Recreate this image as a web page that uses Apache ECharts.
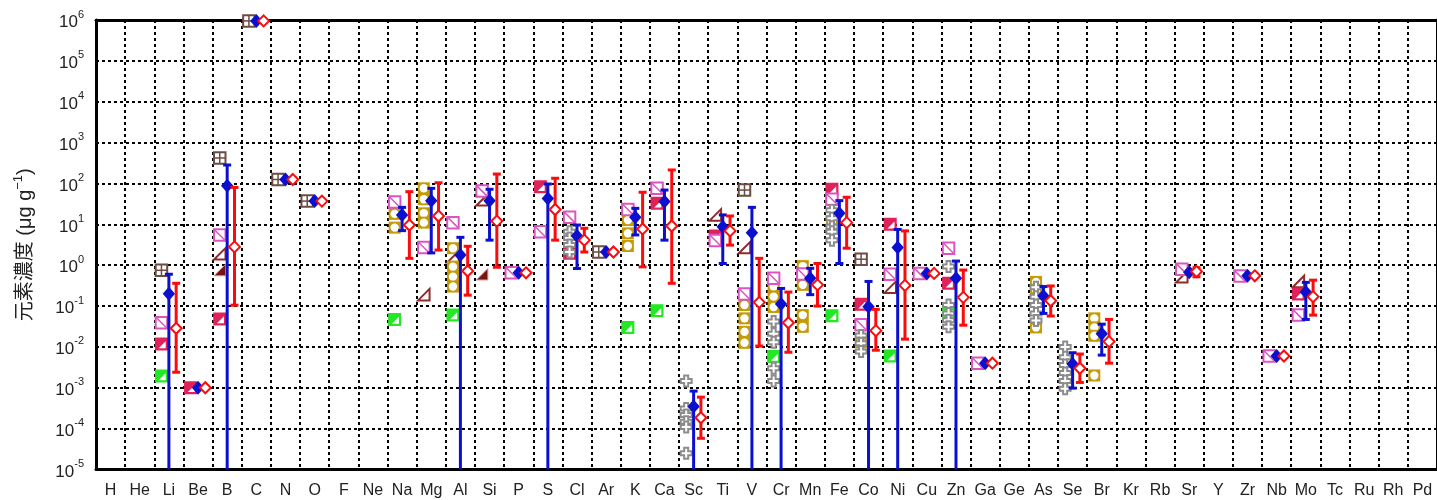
<!DOCTYPE html>
<html>
<head>
<meta charset="utf-8">
<script src="https://cdn.jsdelivr.net/npm/echarts@6/dist/echarts.min.js"></script>
<style>
  html, body { margin: 0; padding: 0; background: #fff; }
  #chart { width: 1437px; height: 500px; }
</style>
</head>
<body>
<div id="chart"></div>
<script>
// Element categories along the x axis
const elements = ['H','He','Li','Be','B','C','N','O','F','Ne','Na','Mg','Al','Si','P','S','Cl','Ar','K','Ca',
  'Sc','Ti','V','Cr','Mn','Fe','Co','Ni','Cu','Zn','Ga','Ge','As','Se','Br','Kr','Rb','Sr','Y','Zr','Nb','Mo',
  'Tc','Ru','Rh','Pd'];

// Reference values (µg/g), one array per marker type: [element, value]
const gridSquare = [['Li',0.75],['B',420],['C',9.5e5],['N',125],['O',37],['Ar',2.1],['V',69],['Co',1.4]];
const diagSquare = [['Li',0.039],['B',5.5],['Na',35],['Mg',2.7],['Al',11],['Si',65],['P',0.65],['S',6.6],
  ['Cl',14.8],['K',23],['Ca',76],['Ti',4.0],['V',0.197],['Cr',0.48],['Mn',0.61],['Fe',41],['Co',0.035],
  ['Ni',0.6],['Cu',0.63],['Zn',2.6],['Ga',0.004],['Sr',0.8],['Zr',0.54],['Nb',0.006],['Mo',0.06]];
const halfCrimson = [['Li',0.0118],['Be',0.001],['B',0.048],['S',83],['Cl',1.95],['Ca',33],['Ti',5.2],
  ['Fe',72],['Co',0.11],['Ni',10],['Zn',0.36],['Mo',0.197]];
const halfGreen = [['Li',0.00195],['Na',0.047],['Al',0.06],['K',0.03],['Ca',0.077],['Cr',0.0058],
  ['Fe',0.058],['Ni',0.006],['Zn',0.07]];
const triFilled = [['B',0.76],['Si',0.6]];
const triOpen = [['B',1.9],['Mg',0.19],['Al',1.6],['Si',40],['Ti',17],['V',2.7],['Fe',9.5],['Ni',0.29],
  ['Sr',0.52],['Mo',0.4]];
const dotSquare = [['Na',18],['Na',8.3],['Mg',76],['Mg',41],['Mg',18.6],['Mg',11],['Al',2.6],['Al',0.92],
  ['Al',0.52],['Al',0.30],['K',12.7],['K',6.0],['K',2.95],['V',0.106],['V',0.05],['V',0.0234],['V',0.0126],
  ['Cr',0.3],['Cr',0.17],['Cr',0.095],['Mn',0.95],['Mn',0.57],['Mn',0.33],['Mn',0.06],['Mn',0.031],
  ['Fe',12],['Co',0.013],['As',0.39],['As',0.25],['As',0.03],['Br',0.05],['Br',0.03],['Br',0.0187],['Br',0.002]];
const plusMark = [['Cl',6.6],['Cl',4.6],['Cl',3.1],['Cl',2.1],
  ['Sc',0.00146],['Sc',3.1e-4],['Sc',2.15e-4],['Sc',1.47e-4],['Sc',1.1e-4],['Sc',2.5e-5],
  ['Cr',0.042],['Cr',0.021],['Cr',0.013],['Cr',0.003],['Cr',0.00146],
  ['Fe',22],['Fe',14],['Fe',8.7],['Fe',6.6],['Fe',4.1],
  ['Co',0.019],['Co',0.0123],['Co',0.0077],
  ['Zn',0.93],['Zn',0.106],['Zn',0.066],['Zn',0.045],['Zn',0.031],
  ['As',0.29],['As',0.17],['As',0.106],['As',0.066],['As',0.044],
  ['Se',0.01],['Se',0.0056],['Se',0.0036],['Se',0.0023],['Se',0.00147],['Se',0.00094]];

// Mean with range: [element, mean, low, high]  (low of 1e-6 runs past the axis floor)
const blueStats = [['Li',0.2,1e-6,0.6],['Be',0.001,0.001,0.001],['B',88,1e-6,283],['C',9.5e5,9.5e5,9.5e5],
  ['N',125,125,125],['O',37,37,37],['Na',16.9,7,26],['Mg',38,2.0,76],['Al',1.78,1e-6,4.8],['Si',38,4.1,72],
  ['P',0.65,0.65,0.65],['S',43,1e-6,97],['Cl',5.2,0.83,9.6],['Ar',2.1,2.1,2.1],['K',14.8,5.5,24.6],
  ['Ca',36,4.1,69],['Sc',3.5e-4,1e-6,8.3e-4],['Ti',8.7,1.1,17],['V',6.2,1e-6,26],['Cr',0.112,1e-6,0.27],
  ['Mn',0.48,0.19,0.84],['Fe',18.6,1.1,38],['Co',0.096,1e-6,0.4],['Ni',2.7,1e-6,7.5],['Cu',0.63,0.63,0.63],
  ['Zn',0.48,1e-6,1.26],['Ga',0.004,0.004,0.004],['As',0.176,0.066,0.3],['Se',0.0038,0.00098,0.0072],
  ['Br',0.021,0.0063,0.036],['Sr',0.67,0.62,0.73],['Zr',0.55,0.55,0.55],['Nb',0.006,0.006,0.006],
  ['Mo',0.22,0.047,0.38]];
const redStats = [['Li',0.0285,0.0024,0.36],['Be',0.001,0.001,0.001],['B',2.8,0.105,80],['C',9.5e5,9.5e5,9.5e5],
  ['N',125,115,136],['O',37,37,37],['Na',9.6,1.47,63],['Mg',16,2.35,104],['Al',0.72,0.185,2.9],
  ['Si',12,0.89,170],['P',0.65,0.65,0.65],['S',23,4.1,134],['Cl',4.1,2.1,8],['Ar',2.1,2.1,2.1],
  ['K',7.7,0.91,61],['Ca',9.1,0.36,214],['Sc',1.85e-4,5.8e-5,5.9e-4],['Ti',6.9,3.1,16],['V',0.123,0.0105,1.47],
  ['Cr',0.039,0.0074,0.22],['Mn',0.33,0.1,1.1],['Fe',11,2.6,46],['Co',0.025,0.0083,0.083],
  ['Ni',0.32,0.0155,6.9],['Cu',0.63,0.63,0.63],['Zn',0.163,0.034,0.76],['Ga',0.004,0.004,0.004],
  ['As',0.135,0.057,0.31],['Se',0.003,0.00135,0.0067],['Br',0.0135,0.004,0.047],['Sr',0.7,0.52,0.87],
  ['Zr',0.55,0.55,0.55],['Nb',0.006,0.006,0.006],['Mo',0.17,0.06,0.43]];

const FONT = "'Liberation Sans', Arial, 'Noto Sans CJK JP', sans-serif";
const S = 11.5, H = S / 2;

// ---- marker drawings ----
function drawGridSquare(x, y) {
  const c = '#6d4c44';
  return { type: 'group', children: [
    { type: 'rect', shape: { x: x - H, y: y - H, width: S, height: S }, style: { fill: '#fff', stroke: c, lineWidth: 2 } },
    { type: 'line', shape: { x1: x, y1: y - H, x2: x, y2: y + H }, style: { stroke: c, lineWidth: 1.5 } },
    { type: 'line', shape: { x1: x - H, y1: y, x2: x + H, y2: y }, style: { stroke: c, lineWidth: 1.5 } }
  ]};
}
function drawDiagSquare(x, y) {
  const c = '#db55c2';
  return { type: 'group', children: [
    { type: 'rect', shape: { x: x - H, y: y - H, width: S, height: S }, style: { fill: '#fff', stroke: c, lineWidth: 2 } },
    { type: 'line', shape: { x1: x - H, y1: y - H, x2: x + H, y2: y + H }, style: { stroke: c, lineWidth: 1.5 } }
  ]};
}
function halfSquare(color) {
  return function (x, y) {
    return { type: 'group', children: [
      { type: 'rect', shape: { x: x - H, y: y - H, width: S, height: S }, style: { fill: color, stroke: color, lineWidth: 1.5 } },
      { type: 'polygon', shape: { points: [[x + H - 1.5, y - H + 3], [x + H - 1.5, y + H - 1.5], [x - H + 3, y + H - 1.5]] },
        style: { fill: '#fff' } }
    ]};
  };
}
function drawTriFilled(x, y) {
  return { type: 'polygon', shape: { points: [[x + H, y - H], [x + H, y + H], [x - H, y + H]] },
    style: { fill: '#7a1212', stroke: '#d99a9a', lineWidth: 1 } };
}
function drawTriOpen(x, y) {
  return { type: 'polygon', shape: { points: [[x + H, y - H], [x + H, y + H], [x - H, y + H]] },
    style: { fill: '#fff', stroke: '#8e2b2b', lineWidth: 2 } };
}
function drawDotSquare(x, y) {
  return { type: 'group', children: [
    { type: 'rect', shape: { x: x - 6, y: y - 6, width: 12, height: 12 }, style: { fill: '#c59c08' } },
    { type: 'circle', shape: { cx: x, cy: y, r: 4.2 }, style: { fill: '#fff' } }
  ]};
}
function drawPlus(x, y) {
  const h = 5.5, w = 2;
  const pts = [[x - w, y - h], [x + w, y - h], [x + w, y - w], [x + h, y - w], [x + h, y + w], [x + w, y + w],
    [x + w, y + h], [x - w, y + h], [x - w, y + w], [x - h, y + w], [x - h, y - w], [x - w, y - w]];
  return { type: 'polygon', shape: { points: pts }, style: { fill: '#fff', stroke: '#8c8c8c', lineWidth: 2 } };
}

// Band width of one category, in pixels
function bandOf(api) {
  return api.coord([1, 1])[0] - api.coord([0, 1])[0];
}

function markerSeries(data, draw, z) {
  return {
    type: 'custom', xAxisIndex: 0, yAxisIndex: 0, z: z, data: data,
    encode: { x: 0, y: 1 },
    renderItem: function (params, api) {
      const p = api.coord([api.value(0), api.value(1)]);
      return draw(p[0] - bandOf(api) * 0.255, p[1]);
    }
  };
}

function statSeries(data, color, hollow, shift, z) {
  return {
    type: 'custom', xAxisIndex: 0, yAxisIndex: 0, z: z, data: data,
    encode: { x: 0, y: [1, 2, 3] },
    renderItem: function (params, api) {
      const cs = params.coordSys;
      const idx = api.value(0);
      const x = api.coord([idx, api.value(1)])[0] + bandOf(api) * shift;
      const yMean = api.coord([idx, api.value(1)])[1];
      let yLow = api.coord([idx, api.value(2)])[1];
      const yHigh = api.coord([idx, api.value(3)])[1];
      const floor = cs.y + cs.height;
      const children = [];
      if (Math.abs(yLow - yHigh) > 1) {
        const lowCap = yLow <= floor;
        if (!lowCap) yLow = floor;
        children.push({ type: 'line', shape: { x1: x, y1: yLow, x2: x, y2: yHigh }, style: { stroke: color, lineWidth: 3 } });
        children.push({ type: 'line', shape: { x1: x - 4, y1: yHigh, x2: x + 4, y2: yHigh }, style: { stroke: color, lineWidth: 3 } });
        if (lowCap) children.push({ type: 'line', shape: { x1: x - 4, y1: yLow, x2: x + 4, y2: yLow }, style: { stroke: color, lineWidth: 3 } });
      }
      if (hollow) {
        children.push({ type: 'polygon', shape: { points: [[x, yMean - 5.5], [x + 5.5, yMean], [x, yMean + 5.5], [x - 5.5, yMean]] },
          style: { fill: '#fff', stroke: color, lineWidth: 2 } });
      } else {
        children.push({ type: 'polygon', shape: { points: [[x, yMean - 7], [x + 6.2, yMean], [x, yMean + 7], [x - 6.2, yMean]] },
          style: { fill: color } });
      }
      return { type: 'group', children: children };
    }
  };
}

const chart = echarts.init(document.getElementById('chart'), null, { renderer: 'canvas' });

const dotted = { color: '#000', width: 2, type: [3, 3] };
const yLabel = {
  fontFamily: FONT, color: '#222', margin: 12,
  formatter: function (v) {
    const e = Math.round(Math.log10(v));
    return '{b|10}{s|' + e + '}';
  },
  rich: {
    b: { fontFamily: FONT, fontSize: 17, color: '#222', lineHeight: 22, verticalAlign: 'bottom' },
    s: { fontFamily: FONT, fontSize: 11, color: '#222', lineHeight: 22, verticalAlign: 'top' }
  }
};

chart.setOption({
  animation: false,
  backgroundColor: '#fff',
  grid: { left: 96, top: 20, width: 1345, height: 449.5, containLabel: false },
  xAxis: [
    {
      type: 'category', data: elements, position: 'bottom', boundaryGap: true,
      axisLine: { lineStyle: { color: '#000', width: 3 } },
      axisTick: { inside: true, length: 10, lineStyle: { color: '#000', width: 3 } },
      axisLabel: { fontFamily: FONT, fontSize: 16, color: '#222', margin: 13, interval: 0 },
      splitLine: { show: true, interval: 0, lineStyle: dotted }
    },
    {
      type: 'category', data: elements, position: 'top', boundaryGap: true,
      axisLine: { lineStyle: { color: '#000', width: 3 } },
      axisTick: { inside: true, length: 10, interval: 0, lineStyle: { color: '#000', width: 3 } },
      axisLabel: { show: false }, splitLine: { show: false }
    }
  ],
  yAxis: [
    {
      type: 'log', logBase: 10, min: 1e-5, max: 1e6, interval: 1,
      name: '元素濃度 (μg g{s|−1})', nameLocation: 'middle', nameRotate: 90, nameGap: 58,
      nameTextStyle: {
        fontFamily: FONT, fontSize: 20, color: '#222',
        rich: { s: { fontFamily: FONT, fontSize: 13, color: '#222', verticalAlign: 'top', lineHeight: 26 } }
      },
      axisLine: { show: true, lineStyle: { color: '#000', width: 3 } },
      axisTick: { inside: true, length: 10, lineStyle: { color: '#000', width: 3 } },
      axisLabel: yLabel,
      splitLine: { show: true, lineStyle: dotted },
      minorTick: { show: false }
    },
    {
      type: 'log', logBase: 10, min: 1e-5, max: 1e6, interval: 1, position: 'right',
      axisLine: { show: true, lineStyle: { color: '#000', width: 3 } },
      axisTick: { inside: true, length: 10, lineStyle: { color: '#000', width: 3 } },
      axisLabel: { show: false }, splitLine: { show: false }
    }
  ],
  series: [
    markerSeries(triOpen, drawTriOpen, 2),
    markerSeries(triFilled, drawTriFilled, 3),
    markerSeries(dotSquare, drawDotSquare, 4),
    markerSeries(halfGreen, halfSquare('#25e825'), 5),
    markerSeries(halfCrimson, halfSquare('#e0225a'), 6),
    markerSeries(gridSquare, drawGridSquare, 7),
    markerSeries(diagSquare, drawDiagSquare, 8),
    markerSeries(plusMark, drawPlus, 9),
    statSeries(blueStats, '#0a0fd0', false, 0, 10),
    statSeries(redStats, '#ff0a0a', true, 0.25, 11)
  ]
});
</script>
</body>
</html>
